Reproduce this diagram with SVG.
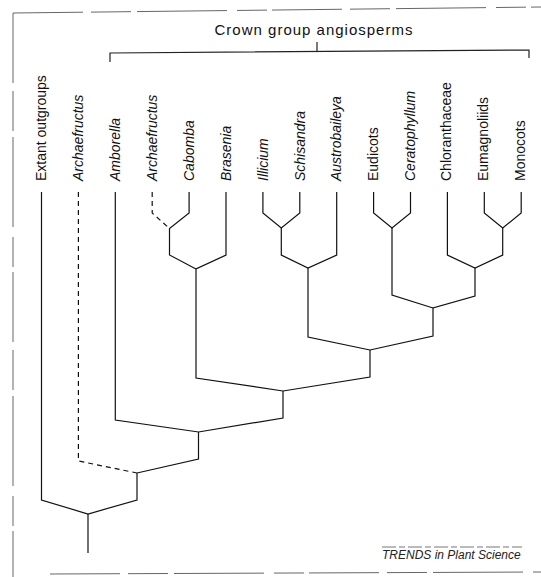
<svg xmlns="http://www.w3.org/2000/svg" width="541" height="577" viewBox="0 0 541 577">
<style>
  .frame { fill: none; stroke: #666; stroke-width: 1; stroke-dasharray: 70 8 40 6 90 10 30 5; }
  .br { fill: none; stroke: #222; stroke-width: 1.2; }
  .e { fill: none; stroke: #111; stroke-width: 1.2; stroke-linejoin: miter; }
  .d { fill: none; stroke: #111; stroke-width: 1.2; stroke-dasharray: 5 4; }
  .lbl { font-family: "Liberation Sans", Arial, sans-serif; font-size: 14px; fill: #111; }
  .it { font-style: italic; }
  .title { font-family: "Liberation Sans", Arial, sans-serif; font-size: 15px; letter-spacing: 1px; fill: #111; }
  .src { font-family: "Liberation Sans", Arial, sans-serif; font-size: 12px; font-style: italic; fill: #222; }
</style>
<rect width="541" height="577" fill="#fff"/>
<g id="frame">
  <path class="frame" d="M13,13 L541,7"/>
  <path class="frame" d="M13,13 L13,577"/>
  <path class="frame" d="M50,574 L541,572"/>
</g>
<g id="crown-bracket">
  <text class="title" x="314" y="35" text-anchor="middle">Crown group angiosperms</text>
  <path class="br" d="M110,62 L110,53 L529,50 L529,58"/>
  <path class="br" d="M317,42 L317,51.5"/>
</g>
<g id="labels">
  <text class="lbl" transform="translate(46,181) rotate(-90)">Extant outgroups</text>
  <text class="lbl it" transform="translate(83,181) rotate(-90)">Archaefructus</text>
  <text class="lbl it" transform="translate(120,181) rotate(-90)">Amborella</text>
  <text class="lbl it" transform="translate(157,181) rotate(-90)">Archaefructus</text>
  <text class="lbl it" transform="translate(194,181) rotate(-90)">Cabomba</text>
  <text class="lbl it" transform="translate(231,181) rotate(-90)">Brasenia</text>
  <text class="lbl it" transform="translate(267.5,181) rotate(-90)">Illicium</text>
  <text class="lbl it" transform="translate(304.5,181) rotate(-90)">Schisandra</text>
  <text class="lbl it" transform="translate(341,181) rotate(-90)">Austrobaileya</text>
  <text class="lbl" transform="translate(378,181) rotate(-90)">Eudicots</text>
  <text class="lbl it" transform="translate(415,181) rotate(-90)">Ceratophyllum</text>
  <text class="lbl" transform="translate(451,181) rotate(-90)">Chloranthaceae</text>
  <text class="lbl" transform="translate(488,181) rotate(-90)">Eumagnoliids</text>
  <text class="lbl" transform="translate(525,181) rotate(-90)">Monocots</text>
</g>
<g id="connectors">
  <!-- Archaefructus (dashed) + Cabomba -->
  <path class="d" d="M152.2,192 L152.2,213 L169.5,228.5"/>
  <path class="e" d="M189.1,192 L189.1,213 L169.5,228.5 L169.5,255 L196,269"/>
  <!-- Brasenia -->
  <path class="e" d="M226,192 L226,255 L196,269 L196,378 L283,391"/>
  <!-- Illicium + Schisandra -->
  <path class="e" d="M262.9,192 L262.9,213 L281.3,228 L299.8,213 L299.8,192"/>
  <path class="e" d="M281.3,228 L281.3,255 L308,268 L336.7,255 L336.7,192"/>
  <path class="e" d="M308,268 L308,337 L370,350"/>
  <!-- Eudicots + Ceratophyllum -->
  <path class="e" d="M373.6,192 L373.6,213 L392,228 L410.5,213 L410.5,192"/>
  <path class="e" d="M392,228 L392,295 L433,308"/>
  <!-- Eumagnoliids + Monocots -->
  <path class="e" d="M484.3,192 L484.3,213 L502.7,228 L521.2,213 L521.2,192"/>
  <path class="e" d="M502.7,228 L502.7,255 L475,268 L447.4,255 L447.4,192"/>
  <path class="e" d="M475,268 L475,296 L433,308 L433,336 L370,350"/>
  <path class="e" d="M370,350 L370,377 L283,391"/>
  <!-- Amborella -->
  <path class="e" d="M283,391 L283,418 L198.5,432 L115.3,420 L115.3,192"/>
  <path class="e" d="M198.5,432 L198.5,459 L137,473"/>
  <!-- Archaefructus stem (dashed) -->
  <path class="d" d="M78.4,192 L78.4,461 L137,473"/>
  <path class="e" d="M137,473 L137,500 L88,514 L41.5,500 L41.5,192"/>
  <path class="e" d="M88,514 L88,553"/>
</g>
<g id="source">
  <path d="M382,547 L522,547" stroke="#777" stroke-width="1" stroke-dasharray="14 3 6 3"/>
  <text class="src" x="382" y="559">TRENDS in Plant Science</text>
</g>
</svg>
